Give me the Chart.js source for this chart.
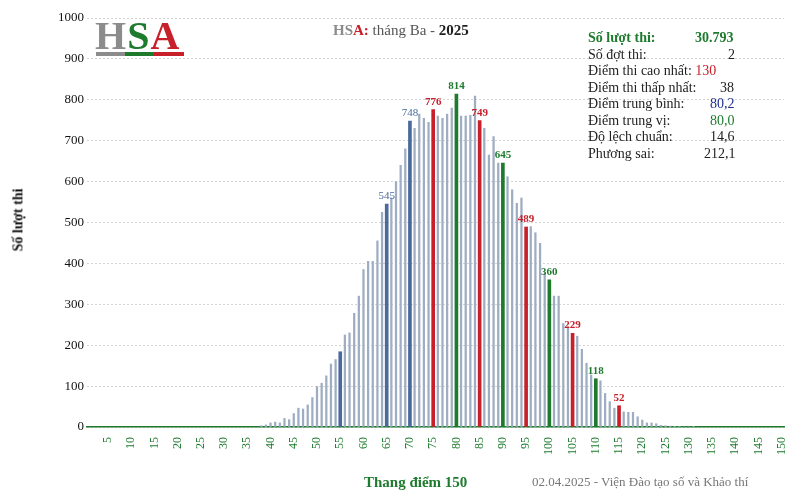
<!DOCTYPE html>
<html><head><meta charset="utf-8">
<script src="https://cdn.jsdelivr.net/npm/chart.js@4"></script>
<style>
body{margin:0;background:#fff;font-family:"Liberation Serif",serif}
#wrap{position:relative;width:800px;height:499px}
.t{position:absolute;white-space:nowrap}
</style></head><body>
<div id="wrap"><canvas id="c" width="800" height="499"></canvas>
<div class="t" style="left:95px;top:12px;font-size:40px;font-weight:bold;letter-spacing:1px"><span style="color:#8c8c8c">H</span><span style="color:#1e7b2e">S</span><span style="color:#c8202a">A</span></div>
<div class="t" style="left:96px;top:52px;width:88px;height:4px;background:linear-gradient(90deg,#8c8c8c 33%,#1e7b2e 33% 66%,#c8202a 66%)"></div>
<div class="t" style="left:333px;top:22px;font-size:15px;font-weight:bold;color:#666"><span style="color:#8c8c8c">HS</span><span style="color:#c8202a">A:</span> <span style="font-weight:normal;color:#555">tháng Ba -</span> <span style="color:#222">2025</span></div>
<div class="t" style="left:588px;top:30px;font-size:14px;line-height:16.5px;color:#222">
<div><b style="color:#1e7b2e">Số lượt thi:</b><b style="position:absolute;left:107px;color:#1e7b2e">30.793</b></div>
<div>Số đợt thi:<span style="position:absolute;left:140px">2</span></div>
<div>Điểm thi cao nhất: <span style="color:#c8202a">130</span></div>
<div>Điểm thi thấp nhất:<span style="position:absolute;left:132px">38</span></div>
<div>Điểm trung bình:<span style="position:absolute;left:122px;color:#1f2f8f">80,2</span></div>
<div>Điểm trung vị:<span style="position:absolute;left:122px;color:#1e7b2e">80,0</span></div>
<div>Độ lệch chuẩn:<span style="position:absolute;left:122px">14,6</span></div>
<div>Phương sai:<span style="position:absolute;left:116px">212,1</span></div>
</div>
<div class="t" style="left:364px;top:474px;font-size:15px;font-weight:bold;color:#1e7b2e">Thang điểm 150</div>
<div class="t" style="left:532px;top:474px;font-size:13px;color:#777">02.04.2025 - Viện Đào tạo số và Khảo thí</div>
<div class="t" style="left:-13px;top:212px;font-size:14px;font-weight:bold;transform:rotate(-90deg);color:#111">Số lượt thi</div>
</div>
<script>
// score counts starting at score 38 (lowest) up to 130 (highest)
const firstScore = 38;
const counts = [3,5,10,12,10,21,18,33,46,44,54,72,99,107,125,154,165,184,225,230,278,320,385,405,405,455,525,545,560,600,640,680,748,730,765,755,745,776,760,755,765,780,814,760,760,762,809,749,730,665,710,645,645,612,580,547,560,489,490,475,449,376,360,320,320,253,245,229,222,190,156,127,118,113,82,62,46,52,37,36,36,25,17,10,10,8,4,3,2,1,1,0,0,1];
// highlighted scores and their colours
const markScores = [55,65,70,75,80,85,90,95,100,105,110,115];
const markColors = ['#4a6a9c','#4a6a9c','#4a6a9c','#c8202a','#1e7b2e','#c8202a','#1e7b2e','#c8202a','#1e7b2e','#c8202a','#1e7b2e','#c8202a'];
const markLabeled = [false,true,true,true,true,true,true,true,true,true,true,true];

const labels = Array.from({length:150},(_,i)=>i+1);
const countOf = s => (s>=firstScore && s<firstScore+counts.length) ? counts[s-firstScore] : null;
const plain = labels.map(s => markScores.includes(s) ? null : countOf(s));
const marked = labels.map(s => markScores.includes(s) ? countOf(s) : null);
const markColor = labels.map(s => { const k=markScores.indexOf(s); return k<0?'#000':markColors[k]; });

const valueLabels = {
  id:'valueLabels',
  afterDatasetsDraw(chart){
    const ctx=chart.ctx, meta=chart.getDatasetMeta(1);
    meta.data.forEach((bar,i)=>{
      const k=markScores.indexOf(labels[i]);
      if(k<0||!markLabeled[k]) return;
      ctx.save();
      ctx.fillStyle=markColors[k];
      ctx.font=(markColors[k]==='#4a6a9c'?'':'bold ')+'11px "Liberation Serif"';
      ctx.textAlign='center';
      ctx.fillText(String(marked[i]),bar.x,bar.y-5);
      ctx.restore();
    });
  }
};

new Chart(document.getElementById('c'),{
  type:'bar',
  data:{labels,datasets:[
    {data:plain,backgroundColor:'#9fadc2',barThickness:1.6,grouped:false},
    {data:marked,backgroundColor:markColor,barThickness:3,grouped:false}
  ]},
  options:{
    responsive:false,animation:false,
    layout:{padding:{left:10,right:16,top:18,bottom:0}},
    plugins:{legend:{display:false},tooltip:{enabled:false}},
    scales:{
      x:{
        grid:{display:false},
        border:{color:'#1e7b2e',width:1.5},
        ticks:{autoSkip:false,minRotation:90,maxRotation:90,color:'#1e7b2e',padding:2,
          font:{family:'Liberation Serif',size:12},
          callback:(v,i)=>labels[i]%5===0?labels[i]:''},
        afterFit:s=>{s.height=72;}
      },
      y:{
        min:0,max:1000,
        ticks:{stepSize:100,color:'#111',font:{family:'Liberation Serif',size:13},callback:v=>String(v)},
        grid:{color:'#d4d4d4',drawTicks:false},
        border:{display:false,dash:[2,2]},
        afterFit:s=>{s.width=77;}
      }
    }
  },
  plugins:[valueLabels]
});
</script>
</body></html>
